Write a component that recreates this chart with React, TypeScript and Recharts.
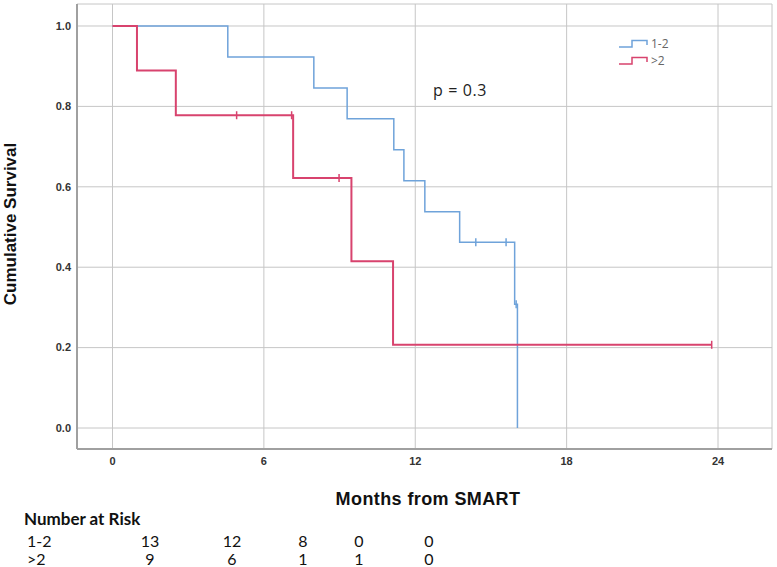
import { ComposedChart, Line, Scatter, XAxis, YAxis, CartesianGrid } from 'recharts';

// Kaplan-Meier steps (months, cumulative survival)
const lowGroupSteps = [
  { t: 0, s: 1.0 },
  { t: 4.57, s: 0.923 },
  { t: 7.98, s: 0.846 },
  { t: 9.3, s: 0.769 },
  { t: 11.15, s: 0.692 },
  { t: 11.55, s: 0.615 },
  { t: 12.38, s: 0.538 },
  { t: 13.76, s: 0.462 },
  { t: 15.94, s: 0.308 },
  { t: 16.05, s: 0.0 },
];
const lowGroupCensored = [
  { t: 14.4, s: 0.462 },
  { t: 15.6, s: 0.462 },
  { t: 16.0, s: 0.308 },
];

const highGroupSteps = [
  { t: 0, s: 1.0 },
  { t: 0.97, s: 0.889 },
  { t: 2.51, s: 0.778 },
  { t: 7.16, s: 0.622 },
  { t: 9.47, s: 0.415 },
  { t: 11.12, s: 0.207 },
  { t: 23.75, s: 0.207 },
];
const highGroupCensored = [
  { t: 4.92, s: 0.778 },
  { t: 7.1, s: 0.778 },
  { t: 8.98, s: 0.622 },
  { t: 23.75, s: 0.207 },
];

const xTicks = [0, 6, 12, 18, 24];
const yTicks = [0, 0.2, 0.4, 0.6, 0.8, 1.0];

const groupNames = ['1-2', '>2'];
const riskLow = [13, 12, 8, 0, 0];
const riskHigh = [9, 6, 1, 1, 0];

const BLUE = '#6fa3da';
const RED = '#d8436e';
const riskColX = [150, 232, 303, 359, 429]; // centres of the at-risk columns

const censorShape = (color: string) => (props: any) => {
  const { cx, cy } = props;
  return <line x1={cx} x2={cx} y1={cy - 4} y2={cy + 4} stroke={color} strokeWidth={1.5} />;
};

const XTick = ({ x, y, payload }: any) => (
  <text x={x} y={y} dy="0.71em" textAnchor="middle" fontSize={11} fontWeight="bold" fill="#333" fontFamily="Arial, 'Liberation Sans'">
    {payload.value}
  </text>
);

const YTick = ({ x, y, payload }: any) => (
  <text x={x} y={y} dy="0.35em" textAnchor="end" fontSize={11} fontWeight="bold" fill="#333" fontFamily="Arial, 'Liberation Sans'">
    {Number(payload.value).toFixed(1)}
  </text>
);

const LegendIcon = ({ color }: { color: string }) => (
  <svg width={31} height={10} style={{ display: 'block' }}>
    <path d="M0,8 L13,8 L13,1.5 L28,1.5 L28,6" fill="none" stroke={color} strokeWidth={1.5} />
  </svg>
);

export default function App() {
  const font = "Arial, 'Liberation Sans', sans-serif";
  return (
    <div style={{ position: 'absolute', left: 0, top: 0, width: 777, height: 567, background: '#fff', fontFamily: font }}>
      <ComposedChart width={777} height={567} margin={{ top: 4, right: 5, bottom: 0, left: 0 }}>
        <CartesianGrid stroke="#c6c6c6" strokeWidth={1} />
        <XAxis
          type="number"
          dataKey="t"
          domain={[-1.407, 26.14]}
          ticks={xTicks}
          allowDataOverflow
          height={118}
          tickSize={0}
          tickMargin={8}
          tick={<XTick />}
          axisLine={{ stroke: '#a0a0a0', strokeWidth: 2 }}
          tickLine={false}
        />
        <YAxis
          type="number"
          dataKey="s"
          domain={[-0.0522, 1.0547]}
          ticks={yTicks}
          allowDataOverflow
          width={77}
          tickSize={0}
          tickMargin={6}
          tick={<YTick />}
          axisLine={{ stroke: '#a0a0a0', strokeWidth: 2 }}
          tickLine={false}
        />
        <Line data={lowGroupSteps} dataKey="s" type="stepAfter" stroke={BLUE} strokeWidth={1.5} dot={false} isAnimationActive={false} />
        <Line data={highGroupSteps} dataKey="s" type="stepAfter" stroke={RED} strokeWidth={2} dot={false} isAnimationActive={false} />
        <Scatter data={lowGroupCensored} dataKey="s" shape={censorShape(BLUE)} isAnimationActive={false} />
        <Scatter data={highGroupCensored} dataKey="s" shape={censorShape(RED)} isAnimationActive={false} />
      </ComposedChart>

      {/* y axis title */}
      <div
        style={{
          position: 'absolute', left: 11, top: 224, transform: 'translate(-50%, -50%) rotate(-90deg)',
          whiteSpace: 'nowrap', fontSize: 17, fontWeight: 'bold', color: '#111',
        }}
      >
        Cumulative Survival
      </div>

      {/* x axis title */}
      <div
        style={{
          position: 'absolute', left: 428, top: 499, transform: 'translate(-50%, -50%)',
          whiteSpace: 'nowrap', fontSize: 18, fontWeight: 'bold', letterSpacing: 0.4, color: '#111',
        }}
      >
        Months from SMART
      </div>

      {/* p value */}
      <div style={{ position: 'absolute', left: 433, top: 79, fontSize: 16, fontFamily: "'Open Sans', sans-serif", color: '#222', letterSpacing: 0.6, whiteSpace: 'nowrap' }}>
        p = 0.3
      </div>

      {/* legend */}
      {groupNames.map((name, i) => (
        <div key={name} style={{ position: 'absolute', left: 619, top: 36 + i * 17, display: 'flex', alignItems: 'center', height: 15 }}>
          <LegendIcon color={i === 0 ? BLUE : RED} />
          <span style={{ fontSize: 12, lineHeight: '15px', fontFamily: "'Open Sans', sans-serif", color: '#666', marginLeft: 1 }}>{name}</span>
        </div>
      ))}

      {/* number at risk table */}
      <div style={{ position: 'absolute', left: 24, top: 509, fontFamily: 'Lato, sans-serif', fontWeight: 'bold', fontSize: 17, lineHeight: '20px', color: '#111', whiteSpace: 'nowrap' }}>
        Number at Risk
      </div>
      {[riskLow, riskHigh].map((row, r) => (
        <div key={r}>
          <div style={{ position: 'absolute', left: 27, top: 532 + r * 18, fontFamily: 'Lato, sans-serif', fontSize: 16, lineHeight: '18px', color: '#111' }}>
            {groupNames[r]}
          </div>
          {row.map((v, c) => (
            <div
              key={c}
              style={{ position: 'absolute', left: riskColX[c], top: 532 + r * 18, transform: 'translateX(-50%)', fontFamily: 'Lato, sans-serif', fontSize: 16, lineHeight: '18px', color: '#111' }}
            >
              {v}
            </div>
          ))}
        </div>
      ))}
    </div>
  );
}
